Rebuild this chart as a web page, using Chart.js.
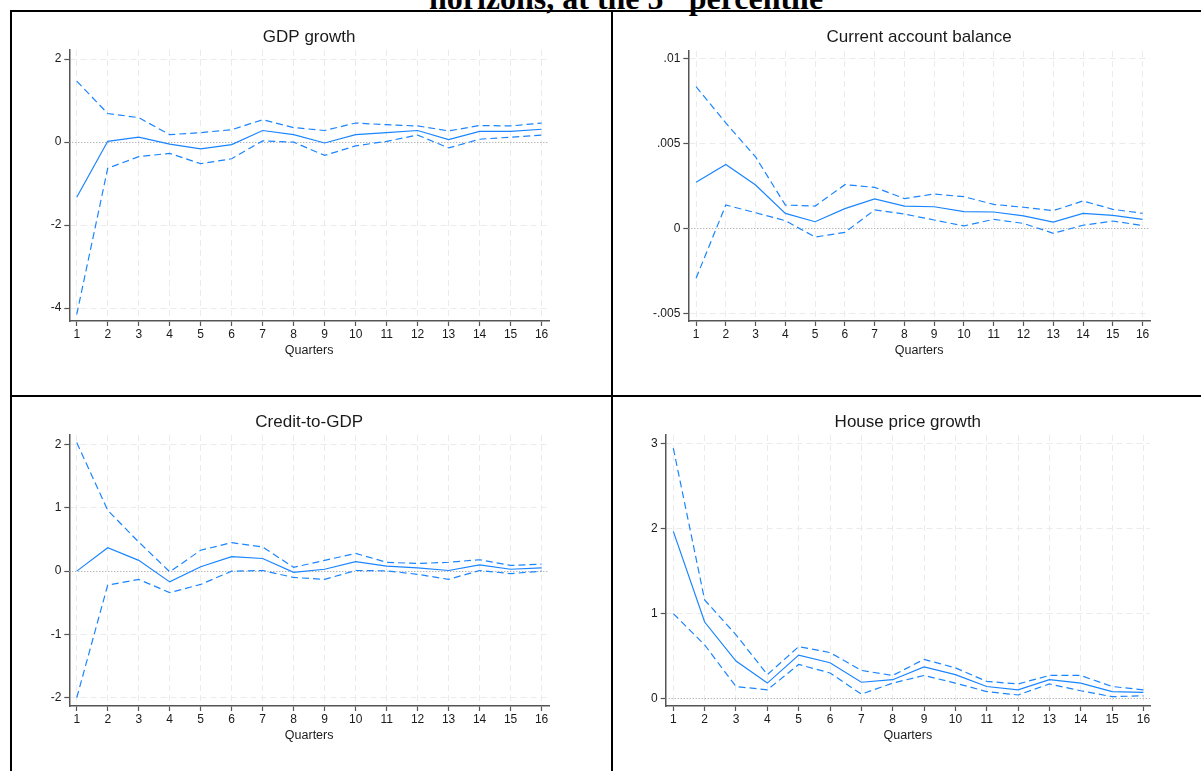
<!DOCTYPE html>
<html>
<head>
<meta charset="utf-8">
<script src="https://cdn.jsdelivr.net/npm/chart.js@4"></script>
<style>
  html, body { margin: 0; padding: 0; background: #ffffff; }
  body { width: 1201px; height: 771px; position: relative; overflow: hidden; }
  canvas { position: absolute; }
  .rule { position: absolute; background: #000; z-index: 5; }
  #maintitle {
    position: absolute; left: 626px; top: -18px; transform: translateX(-50%);
    font-family: "Liberation Serif", "Times New Roman", serif; font-weight: bold;
    font-size: 32px; line-height: 32px; white-space: nowrap; color: #000;
  }
  #maintitle sup { font-size: 0.6em; vertical-align: 0.7em; line-height: 0; }
</style>
</head>
<body>
<div id="maintitle">horizons, at the 5<sup>th</sup> percentile</div>
<div class="rule" style="left:10px;top:10px;width:1191px;height:2px"></div>
<div class="rule" style="left:10px;top:10px;width:2px;height:761px"></div>
<div class="rule" style="left:611px;top:10px;width:2px;height:761px"></div>
<div class="rule" style="left:10px;top:395px;width:1191px;height:2px"></div>

<script>
// ---------------- data ----------------
const quarters = [1, 2, 3, 4, 5, 6, 7, 8, 9, 10, 11, 12, 13, 14, 15, 16];

const gdpIrf   = [-1.33, 0.02, 0.12, -0.05, -0.16, -0.06, 0.28, 0.18, -0.02, 0.18, 0.23, 0.28, 0.06, 0.26, 0.26, 0.31];
const gdpUpper = [1.47, 0.69, 0.59, 0.18, 0.23, 0.30, 0.54, 0.35, 0.28, 0.46, 0.42, 0.39, 0.27, 0.40, 0.39, 0.46];
const gdpLower = [-4.15, -0.63, -0.35, -0.27, -0.52, -0.40, 0.03, 0.00, -0.32, -0.09, 0.02, 0.17, -0.14, 0.07, 0.12, 0.17];

const caIrf   = [0.00271, 0.00375, 0.00255, 0.00088, 0.00039, 0.00116, 0.00173, 0.00131, 0.00127, 0.00098, 0.00096, 0.00073, 0.00037, 0.00088, 0.00076, 0.00053];
const caUpper = [0.00833, 0.00620, 0.00420, 0.00137, 0.00131, 0.00257, 0.00241, 0.00175, 0.00202, 0.00186, 0.00141, 0.00124, 0.00104, 0.00161, 0.00112, 0.00088];
const caLower = [-0.00294, 0.00137, 0.00092, 0.00045, -0.00051, -0.00024, 0.00108, 0.00084, 0.00049, 0.00014, 0.00053, 0.00029, -0.00029, 0.00018, 0.00043, 0.00016];

const creditIrf   = [0.00, 0.37, 0.17, -0.17, 0.07, 0.23, 0.20, -0.02, 0.03, 0.15, 0.08, 0.05, 0.01, 0.10, 0.03, 0.05];
const creditUpper = [2.03, 0.96, 0.46, -0.01, 0.33, 0.45, 0.38, 0.06, 0.17, 0.28, 0.14, 0.12, 0.14, 0.18, 0.09, 0.11];
const creditLower = [-2.00, -0.22, -0.13, -0.34, -0.21, 0.00, 0.01, -0.10, -0.13, 0.01, 0.005, -0.05, -0.13, 0.01, -0.04, 0.00];

const houseIrf   = [1.97, 0.90, 0.44, 0.18, 0.51, 0.42, 0.19, 0.22, 0.37, 0.28, 0.14, 0.10, 0.22, 0.18, 0.08, 0.07];
const houseUpper = [2.95, 1.16, 0.75, 0.28, 0.61, 0.54, 0.33, 0.27, 0.46, 0.36, 0.20, 0.17, 0.27, 0.27, 0.14, 0.10];
const houseLower = [1.00, 0.63, 0.14, 0.10, 0.40, 0.30, 0.05, 0.18, 0.27, 0.18, 0.08, 0.04, 0.17, 0.09, 0.02, 0.03];

const gdpTicks = [-4, -2, 0, 2];
const gdpTickLabels = ['-4', '-2', '0', '2'];
const caTicks = [-0.005, 0, 0.005, 0.01];
const caTickLabels = ['-.005', '0', '.005', '.01'];
const creditTicks = [-2, -1, 0, 1, 2];
const creditTickLabels = ['-2', '-1', '0', '1', '2'];
const houseTicks = [0, 1, 2, 3];
const houseTickLabels = ['0', '1', '2', '3'];

const panelTitles = ['GDP growth', 'Current account balance', 'Credit-to-GDP', 'House price growth'];
const xAxisTitle = 'Quarters';

// ---------------- styling / layout ----------------
const BLUE = '#1a85ff';
const GRID = '#ebebeb';
const AXIS = '#555555';
const TEXT = '#1a1a1a';
const FONT = '"Liberation Sans", Arial, sans-serif';

function pts(arr) { return quarters.map((q, i) => ({ x: q, y: arr[i] })); }

const panelTitlePlugin = {
  id: 'panelTitle',
  afterDraw(chart) {
    const o = chart.options.plugins.panelTitle;
    const ctx = chart.ctx;
    const a = chart.chartArea;
    ctx.save();
    ctx.font = '17px ' + FONT;
    ctx.fillStyle = TEXT;
    ctx.textAlign = 'center';
    ctx.textBaseline = 'middle';
    ctx.fillText(o.text, (a.left + a.right) / 2, o.y);
    ctx.restore();
  }
};

const zeroLinePlugin = {
  id: 'zeroLine',
  beforeDatasetsDraw(chart) {
    const ctx = chart.ctx;
    const a = chart.chartArea;
    const y = chart.scales.y.getPixelForValue(0);
    ctx.save();
    ctx.strokeStyle = '#9a9a9a';
    ctx.lineWidth = 1;
    ctx.setLineDash([1, 2]);
    ctx.beginPath();
    ctx.moveTo(a.left, Math.round(y) + 0.5);
    ctx.lineTo(a.right, Math.round(y) + 0.5);
    ctx.stroke();
    ctx.restore();
  }
};

function panel(p) {
  const c = document.createElement('canvas');
  c.width = p.w; c.height = p.h;
  c.style.left = p.ox + 'px'; c.style.top = p.oy + 'px';
  c.style.width = p.w + 'px'; c.style.height = p.h + 'px';
  document.body.appendChild(c);

  const YW = 50;
  const L = p.L - p.ox, R = p.R - p.ox, T = p.T - p.oy, B = p.B - p.oy;
  const XH = (p.qY - p.oy) + 7.2 - B;

  const lineDs = (arr, dashed) => ({
    data: pts(arr),
    borderColor: BLUE,
    borderWidth: 1.2,
    borderDash: dashed ? [7, 4] : [],
    pointRadius: 0,
    tension: 0,
    fill: false
  });

  new Chart(c, {
    type: 'line',
    data: { datasets: [lineDs(p.upper, true), lineDs(p.mid, false), lineDs(p.lower, true)] },
    options: {
      responsive: false,
      animation: false,
      devicePixelRatio: 1,
      layout: { padding: { left: L - YW, right: p.w - R, top: T, bottom: p.h - B - XH } },
      plugins: {
        legend: { display: false },
        tooltip: { enabled: false },
        title: { display: false },
        panelTitle: { text: p.title, y: p.titleY - p.oy }
      },
      scales: {
        x: {
          type: 'linear',
          min: p.xMin, max: p.xMax,
          afterBuildTicks: s => { s.ticks = quarters.map(v => ({ value: v })); },
          afterFit: s => { s.height = XH; },
          ticks: {
            callback: v => String(v),
            font: { family: FONT, size: 12 },
            color: TEXT, padding: 1, maxRotation: 0, autoSkip: false
          },
          grid: { color: GRID, lineWidth: 1, tickColor: AXIS, tickLength: 5, tickWidth: 1.2 },
          border: { color: AXIS, width: 1.5, dash: [6, 4] },
          title: { display: true, text: xAxisTitle, font: { family: FONT, size: 12.5 }, color: TEXT, padding: 0 }
        },
        y: {
          type: 'linear',
          min: p.yMin, max: p.yMax,
          afterBuildTicks: s => { s.ticks = p.yTicks.map(v => ({ value: v })); },
          afterFit: s => { s.width = YW; },
          ticks: {
            callback: (v) => { const i = p.yTicks.indexOf(v); return i >= 0 ? p.yLabels[i] : ''; },
            font: { family: FONT, size: 12 },
            color: TEXT, padding: 3, autoSkip: false
          },
          grid: {
            color: ctx => (ctx.tick && ctx.tick.value === 0) ? 'rgba(0,0,0,0)' : GRID,
            lineWidth: 1, tickColor: AXIS, tickLength: 5, tickWidth: 1.2
          },
          border: { color: AXIS, width: 1.5, dash: [6, 4] }
        }
      }
    },
    plugins: [zeroLinePlugin, panelTitlePlugin]
  });
}

panel({ ox: 13, oy: 13, w: 597, h: 382, L: 69.3, R: 549, T: 50, B: 321, titleY: 37, qY: 351,
        xMin: 0.76, xMax: 16.24, yMin: -4.31, yMax: 2.22,
        yTicks: gdpTicks, yLabels: gdpTickLabels, title: panelTitles[0],
        mid: gdpIrf, upper: gdpUpper, lower: gdpLower });

panel({ ox: 613, oy: 13, w: 588, h: 382, L: 688.3, R: 1150, T: 51, B: 321, titleY: 37, qY: 351,
        xMin: 0.74, xMax: 16.25, yMin: -0.00545, yMax: 0.01043,
        yTicks: caTicks, yLabels: caTickLabels, title: panelTitles[1],
        mid: caIrf, upper: caUpper, lower: caLower });

panel({ ox: 13, oy: 397, w: 597, h: 374, L: 69.3, R: 549, T: 435, B: 706, titleY: 422.5, qY: 735.7,
        xMin: 0.76, xMax: 16.24, yMin: -2.13, yMax: 2.15,
        yTicks: creditTicks, yLabels: creditTickLabels, title: panelTitles[2],
        mid: creditIrf, upper: creditUpper, lower: creditLower });

panel({ ox: 613, oy: 397, w: 588, h: 374, L: 665.7, R: 1150, T: 435, B: 706, titleY: 422.5, qY: 735.7,
        xMin: 0.757, xMax: 16.21, yMin: -0.09, yMax: 3.106,
        yTicks: houseTicks, yLabels: houseTickLabels, title: panelTitles[3],
        mid: houseIrf, upper: houseUpper, lower: houseLower });
</script>
</body>
</html>
